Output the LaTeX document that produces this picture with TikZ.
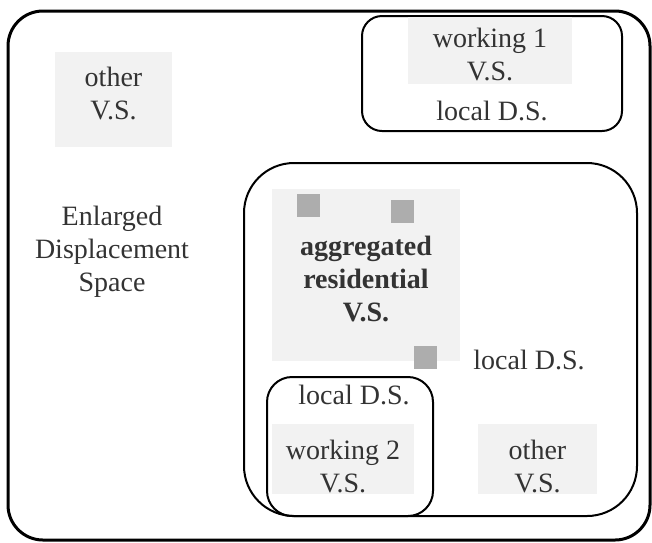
\documentclass[tikz,border=0pt]{standalone}
\usepackage{fontspec}
\setmainfont{Liberation Serif}
\usepackage{xcolor}
\usepackage{tikz}
\usetikzlibrary{positioning}

\begin{document}
\begin{tikzpicture}[x=0.4pt,y=-0.4pt,
        font=\fontsize{11.2}{13.2}\selectfont,
        vsfill/.style={fill=black!5},
        vstext/.style={text=black!80, align=center, inner sep=0pt},
        dsframe/.style={draw=black, line width=0.8pt},
        marker/.style={fill=black!32, minimum size=9.2pt, inner sep=0pt}]
        \useasboundingbox (0,0) rectangle (652,542);
        %KOORDINAT
        \coordinate (outerNW) at (8,11);
        \coordinate (outerSE) at (650,540);
        \coordinate (workaNW) at (362,16);
        \coordinate (workaSE) at (622,131);
        \coordinate (resNW) at (244,163);
        \coordinate (resSE) at (637,516);
        \coordinate (workbNW) at (267,377);
        \coordinate (workbSE) at (433,516);
        %RUANG
        \draw[line width=1.2pt, rounded corners=14pt] (outerNW) rectangle (outerSE);
        \draw[dsframe, rounded corners=8pt] (workaNW) rectangle (workaSE);
        \draw[dsframe, rounded corners=20pt] (resNW) rectangle (resSE);
        %LATAR V.S.
        \fill[vsfill] (55,52) rectangle (172,147);
        \fill[vsfill] (408,17) rectangle (572,84);
        \fill[vsfill] (272,189) rectangle (460,361);
        \fill[vsfill] (272,424) rectangle (414,494);
        \fill[vsfill] (478,424) rectangle (597,494);
        %V.S.
        \node[vstext] (otherA) at (113.5,93.5) {other\\V.S.};
        \node[vstext] (workA) at (490,54.5) {working 1\\V.S.};
        \node[vstext, font=\fontsize{11.2}{13.2}\selectfont\bfseries] (resVS) at (366,279) {aggregated\\residential\\V.S.};
        \node[vstext] (workB) at (343,466) {working 2\\V.S.};
        \node[vstext] (otherB) at (537.5,466) {other\\V.S.};
        %KOTAK KECIL
        \node[marker] (markA) at (308,205) {};
        \node[marker] (markB) at (402,211) {};
        \node[marker] (markC) at (425.5,357.5) {};
        \draw[dsframe, rounded corners=10pt] (workbNW) rectangle (workbSE);
        %LABEL
        \node[vstext] (enlarged) at (112,252) {Enlarged\\Displacement\\Space};
        \node[vstext] (localA) at (492,111) {local D.S.};
        \node[vstext] (localRes) at (529,360) {local D.S.};
        \node[vstext] (localB) at (354,395) {local D.S.};
    \end{tikzpicture}
\end{document}
